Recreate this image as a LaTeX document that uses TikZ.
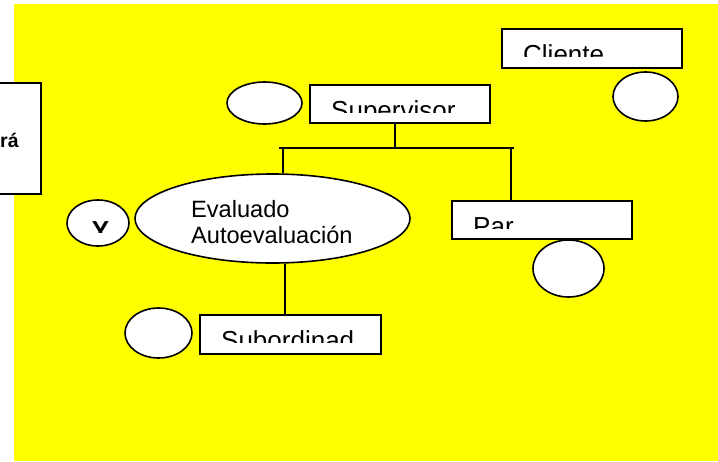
\documentclass[tikz,border=0pt]{standalone}
\usepackage{fontspec}
\setmainfont{Liberation Sans}
\usetikzlibrary{shapes.geometric}
\definecolor{bgyellow}{RGB}{255,255,0}
\begin{document}
\begin{tikzpicture}[x=1pt,y=-1pt,
  boxnode/.style={draw, line width=1.6pt, fill=white, rectangle, inner sep=0pt, anchor=north west},
  ovalnode/.style={draw, line width=1.6pt, fill=white, ellipse, inner sep=0pt},
  wire/.style={line width=1.6pt},
  boxtext/.style={font=\fontsize{26}{28}\selectfont, anchor=base west, inner sep=0pt},
  ovaltext/.style={font=\fontsize{23.6}{26}\selectfont, anchor=base west, inner sep=0pt},
  boldtext/.style={font=\bfseries\fontsize{19.5}{21}\selectfont, inner sep=0pt}]
\useasboundingbox (0,0) rectangle (718,461);
\clip (0,0) rectangle (718,461);
\fill[white] (0,0) rectangle (718,461);
\fill[bgyellow] (14,4) rectangle (718,461);

% left (cut-off) box
\node[boxnode, minimum width=45pt, minimum height=111pt] (leftbox) at (-5,82) {};
\node[boldtext, anchor=base west] (lefttxt) at (0,147.5) {rá};

% boxes
\node[boxnode, minimum width=180pt, minimum height=38pt] (sup) at (309,84) {};
\node[boxnode, minimum width=180pt, minimum height=39pt] (cli) at (501,28) {};
\node[boxnode, minimum width=180pt, minimum height=38pt] (par) at (451,200) {};
\node[boxnode, minimum width=181pt, minimum height=39pt] (sub) at (199,314) {};

% clipped box texts
\begin{scope}
\clip (309,84) rectangle (489,112);
\node[boxtext] (suptxt) at (331,119.6) {Supervisor};
\end{scope}
\begin{scope}
\clip (501,28) rectangle (681,56);
\node[boxtext] (clitxt) at (523,63.6) {Cliente};
\end{scope}
\begin{scope}
\clip (451,200) rectangle (631,228);
\node[boxtext] (partxt) at (473,235.6) {Par};
\end{scope}
\begin{scope}
\clip (199,314) rectangle (380,342);
\node[boxtext] (subtxt) at (221,349.6) {Subordinad};
\end{scope}

% ellipses
\node[ovalnode, minimum width=75pt, minimum height=42pt] (supov) at (264.5,103) {};
\node[ovalnode, minimum width=65pt, minimum height=49pt] (cliov) at (645.5,96.5) {};
\node[ovalnode, minimum width=71pt, minimum height=57pt] (parov) at (568.5,268.5) {};
\node[ovalnode, minimum width=67pt, minimum height=50pt] (subov) at (158.5,333) {};
\node[ovalnode, minimum width=62pt, minimum height=46pt] (yov) at (98,223) {};
\node[ovalnode, minimum width=275pt, minimum height=89pt] (ev) at (272.5,218.5) {};
\node[ovaltext] (evtxt1) at (191,217) {Evaluado};
\node[ovaltext] (evtxt2) at (191,243) {Autoevaluación};

\begin{scope}
\clip (60,195) rectangle (140,232.5);
\node[boldtext, font=\bfseries\fontsize{26}{28}\selectfont, anchor=base] (ytxt) at (100.5,239) {Y};
\end{scope}

% connectors
\coordinate (jl) at (279,148);
\coordinate (jr) at (514,148);
\coordinate (supdrop) at (395,148);
\coordinate (evdrop) at (283,148);
\coordinate (pardrop) at (511,148);
\coordinate (subdrop) at (285,314);
\draw[wire] (supdrop |- sup.south) -- (supdrop);
\draw[wire] (jl) -- (jr);
\draw[wire] (evdrop) -- (evdrop |- ev.north);
\draw[wire] (pardrop) -- (pardrop |- par.north);
\draw[wire] (subdrop |- ev.south) -- (subdrop |- sub.north);
\end{tikzpicture}
\end{document}
